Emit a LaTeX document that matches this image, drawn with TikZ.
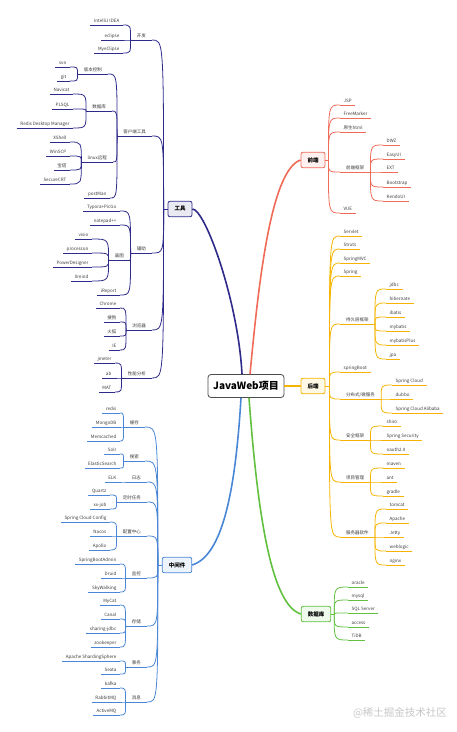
\documentclass[tikz,border=0pt]{standalone}
\usepackage{fontspec}
\setmainfont{Noto Sans CJK SC}
\usepackage{tikz}
\usetikzlibrary{calc}
\definecolor{cTool}{HTML}{2E2A8A}
\definecolor{cMid}{HTML}{4A86D6}
\definecolor{cFe}{HTML}{F06A58}
\definecolor{cBe}{HTML}{F6B400}
\definecolor{cDb}{HTML}{62C040}
\definecolor{cTxt}{HTML}{3A3A3A}

\begin{document}
\begin{tikzpicture}[x=1pt, y=-1pt,
    leaf/.style={font=\fontsize{4.5}{5}\selectfont, text=cTxt, inner xsep=3.5pt, inner ysep=1.8pt, text height=3.4pt, text depth=.9pt},
    ul/.style={append after command={(\tikzlastnode.south west) edge[draw=#1, line width=.8pt] (\tikzlastnode.south east)}},
    lt/.style={leaf, anchor=south east, ul=cTool},
    ht/.style={lt, inner xsep=6pt},
    lm/.style={leaf, anchor=south east, ul=cMid},
    hm/.style={lm, inner xsep=6pt},
    lf/.style={leaf, anchor=south west, ul=cFe},
    hf/.style={lf, inner xsep=6pt},
    lb/.style={leaf, anchor=south west, ul=cBe},
    hb/.style={lb, inner xsep=6pt},
    ld/.style={leaf, anchor=south west, ul=cDb},
    branch/.style={draw=#1, fill=#1!10, rounded corners=2pt, line width=.8pt, text=black, font=\bfseries\fontsize{5.5}{6}\selectfont, minimum height=15.5pt, inner xsep=6.5pt},
    link/.style={draw=#1, line width=.8pt},
    trunk/.style={draw=#1, line width=1.6pt}]
            \useasboundingbox (0,0) rectangle (457,732);
            \node[draw=gray!60!black, fill=white, rounded corners=3pt, line width=.8pt, minimum width=76pt, minimum height=23pt, font=\bfseries\fontsize{10}{12}\selectfont] (root) at (246,386) {JavaWeb项目};
            \node[branch=cTool] (tool) at (180,209) {工具};
            \node[branch=cMid] (mid) at (177,565) {中间件};
            \node[branch=cFe] (fe) at (313,160) {前端};
            \node[branch=cBe] (be) at (313,386) {后端};
            \node[branch=cDb] (db) at (316,614) {数据库};
            \coordinate (tj) at ($(tool.west)+(-4,0)$);
            \coordinate (mj) at ($(mid.west)+(-4,0)$);
            \coordinate (fj) at ($(fe.east)+(3,0)$);
            \coordinate (bj) at ($(be.east)+(4,0)$);
            \coordinate (dj) at ($(db.east)+(3,0)$);

            \node[lt] (ide1) at (123,25) {IntelliJ IDEA};
            \node[lt] (ide2) at (123,40) {eclipse};
            \node[lt] (ide3) at (123,53) {MyeClipse};
            \node[ht] (dev) at (152,40) {开发};
            \node[lt] (vc1) at (70,67) {svn};
            \node[lt] (vc2) at (70,81) {git};
            \node[ht] (vc) at (108,74) {版本控制};
            \node[lt] (db1) at (73,94) {Navicat};
            \node[lt] (db2) at (73,109) {PLSQL};
            \node[lt] (db3) at (73,128) {Redis Desktop Manager};
            \node[ht] (tdb) at (112,111) {数据库};
            \node[lt] (lx1) at (70,142) {XShell};
            \node[lt] (lx2) at (70,156) {WinSCP};
            \node[lt] (lx3) at (70,170) {宝塔};
            \node[lt] (lx4) at (70,184) {SecureCRT};
            \node[ht] (lx) at (113,162) {linux远程};
            \node[lt] (pm) at (110,198) {postMan};
            \node[ht] (cli) at (152,136) {客户端工具};
            \node[lt] (au1) at (120,211) {Typora+PicGo};
            \node[lt] (au2) at (120,225) {notepad++};
            \node[lt] (dr1) at (92,239) {visio};
            \node[lt] (dr2) at (92,253) {processon};
            \node[lt] (dr3) at (92,267) {PowerDesigner};
            \node[lt] (dr4) at (92,281) {Xmind};
            \node[ht] (dr) at (130,260) {画图};
            \node[lt] (au3) at (120,295) {iReport};
            \node[ht] (aux) at (152,253) {辅助};
            \node[lt] (br1) at (120,308) {Chrome};
            \node[lt] (br2) at (120,322) {搜狗};
            \node[lt] (br3) at (120,336) {火狐};
            \node[lt] (br4) at (120,350) {IE};
            \node[ht] (brw) at (152,330) {浏览器};
            \node[lt] (pf1) at (115,363) {jmeter};
            \node[lt] (pf2) at (115,378) {ab};
            \node[lt] (pf3) at (115,392) {MAT};
            \node[ht] (perf) at (152,378) {性能分析};

            \node[lm] (c1) at (120,413) {redis};
            \node[lm] (c2) at (120,427) {MongoDB};
            \node[lm] (c3) at (120,441) {Memcached};
            \node[hm] (cache) at (145,427) {缓存};
            \node[lm] (s1) at (120,454) {Solr};
            \node[lm] (s2) at (120,468) {ElasticSearch};
            \node[hm] (srch) at (145,461) {搜索};
            \node[lm] (l1) at (120,482) {ELK};
            \node[hm] (log) at (147,482) {日志};
            \node[lm] (q1) at (110,495) {Quartz};
            \node[lm] (q2) at (110,509) {xx-job};
            \node[hm] (job) at (147,502) {定时任务};
            \node[lm] (f1) at (110,522) {Spring Cloud Config};
            \node[lm] (f2) at (110,536) {Nacos};
            \node[lm] (f3) at (110,550) {Apollo};
            \node[hm] (cfg) at (147,536) {配置中心};
            \node[lm] (m1) at (120,564) {SpringBootAdmin};
            \node[lm] (m2) at (120,578) {Druid};
            \node[lm] (m3) at (120,592) {SkyWalking};
            \node[hm] (mon) at (147,578) {监控};
            \node[lm] (st1) at (120,605) {MyCat};
            \node[lm] (st2) at (120,619) {Canal};
            \node[lm] (st3) at (120,633) {sharing-jdbc};
            \node[lm] (st4) at (120,647) {zookeeper};
            \node[hm] (sto) at (147,626) {存储};
            \node[lm] (t1) at (120,661) {Apache ShardingSphere};
            \node[lm] (t2) at (120,674) {Seata};
            \node[hm] (tx) at (147,667) {事务};
            \node[lm] (k1) at (120,688) {kafka};
            \node[lm] (k2) at (120,702) {RabbitMQ};
            \node[lm] (k3) at (120,715) {ActiveMQ};
            \node[hm] (mq) at (147,702) {消息};

            \node[lf] (fe1) at (340,105) {JSP};
            \node[lf] (fe2) at (340,118) {FreeMarker};
            \node[lf] (fe3) at (340,132) {原生html};
            \node[hf] (fw) at (340,172) {前端框架};
            \node[lf] (fw1) at (383,145) {DWZ};
            \node[lf] (fw2) at (383,159) {EasyUI};
            \node[lf] (fw3) at (383,172) {EXT};
            \node[lf] (fw4) at (383,187) {Bootstrap};
            \node[lf] (fw5) at (383,201) {KendoUI};
            \node[lf] (fe4) at (340,213) {VUE};

            \node[lb] (be1) at (340,236) {Servlet};
            \node[lb] (be2) at (340,249) {Struts};
            \node[lb] (be3) at (340,263) {SpringMVC};
            \node[lb] (be4) at (340,276) {Spring};
            \node[hb] (orm) at (340,324) {持久层框架};
            \node[lb] (o1) at (386,289) {jdbc};
            \node[lb] (o2) at (386,303) {hibernate};
            \node[lb] (o3) at (386,317) {ibatis};
            \node[lb] (o4) at (386,331) {mybatis};
            \node[lb] (o5) at (386,345) {mybatisPlus};
            \node[lb] (o6) at (386,359) {jpa};
            \node[lb] (be5) at (340,372) {springBoot};
            \node[hb] (dist) at (340,399) {分布式/微服务};
            \node[lb] (d1) at (392,385) {Spring Cloud};
            \node[lb] (d2) at (392,399) {dubbo};
            \node[lb] (d3) at (392,413) {Spring Cloud Alibaba};
            \node[hb] (sec) at (340,440) {安全框架};
            \node[lb] (sc1) at (383,426) {shiro};
            \node[lb] (sc2) at (383,440) {Spring Security};
            \node[lb] (sc3) at (383,454) {oauth2.0};
            \node[hb] (pj) at (340,482) {项目管理};
            \node[lb] (pj1) at (383,468) {maven};
            \node[lb] (pj2) at (383,482) {ant};
            \node[lb] (pj3) at (383,496) {gradle};
            \node[hb] (srv) at (340,537) {服务器软件};
            \node[lb] (sv1) at (386,509) {tomcat};
            \node[lb] (sv2) at (386,523) {Apache};
            \node[lb] (sv3) at (386,537) {Jetty};
            \node[lb] (sv4) at (386,551) {weblogic};
            \node[lb] (sv5) at (386,565) {nginx};

            \node[ld] (sq1) at (348,587) {oracle};
            \node[ld] (sq2) at (348,600) {mysql};
            \node[ld] (sq3) at (348,613) {SQL Server};
            \node[ld] (sq4) at (348,627) {access};
            \node[ld] (sq5) at (348,640) {TiDB};

            \node[text=gray!45, font=\fontsize{10.5}{12}\selectfont] (wm) at (400,713) {@稀土掘金技术社区};

            \draw[trunk=cTool] ([xshift=-4pt]root.north) .. controls (238,300) and (205,209) .. (tool.east);
            \draw[trunk=cFe] ([xshift=4pt]root.north) .. controls (258,290) and (270,170) .. (fe.west);
            \draw[trunk=cMid] ([xshift=-5pt]root.south) .. controls (236,480) and (225,555) .. (mid.east);
            \draw[trunk=cDb] ([xshift=3pt]root.south) .. controls (258,520) and (272,605) .. (db.west);
            \draw[trunk=cBe] (root) -- (be);
            \draw[link=cTool] (tool) -- (tj);
            \draw[link=cMid] (mid) -- (mj);
            \draw[link=cFe] (fe) -- (fj);
            \draw[link=cBe] (be) -- (bj);
            \draw[link=cDb] (db) -- (dj);

            \foreach \c in {dev, cli, aux, brw, perf}
                \draw[link=cTool] (tj) .. controls (tj |- \c.south east) .. (\c.south east);
            \foreach \p/\c in {dev/ide1, dev/ide2, dev/ide3, cli/vc, cli/tdb, cli/lx, cli/pm, vc/vc1, vc/vc2, tdb/db1, tdb/db2, tdb/db3, lx/lx1, lx/lx2, lx/lx3, lx/lx4, aux/au1, aux/au2, aux/dr, aux/au3, dr/dr1, dr/dr2, dr/dr3, dr/dr4, brw/br1, brw/br2, brw/br3, brw/br4, perf/pf1, perf/pf2, perf/pf3}
                \draw[link=cTool] (\p.south west) .. controls (\p.south west |- \c.south east) .. (\c.south east);
            \foreach \c in {cache, srch, log, job, cfg, mon, sto, tx, mq}
                \draw[link=cMid] (mj) .. controls (mj |- \c.south east) .. (\c.south east);
            \foreach \p/\c in {cache/c1, cache/c2, cache/c3, srch/s1, srch/s2, log/l1, job/q1, job/q2, cfg/f1, cfg/f2, cfg/f3, mon/m1, mon/m2, mon/m3, sto/st1, sto/st2, sto/st3, sto/st4, tx/t1, tx/t2, mq/k1, mq/k2, mq/k3}
                \draw[link=cMid] (\p.south west) .. controls (\p.south west |- \c.south east) .. (\c.south east);
            \foreach \c in {fe1, fe2, fe3, fw, fe4}
                \draw[link=cFe] (fj) .. controls (fj |- \c.south west) .. (\c.south west);
            \foreach \c in {fw1, fw2, fw3, fw4, fw5}
                \draw[link=cFe] (fw.south east) .. controls (fw.south east |- \c.south west) .. (\c.south west);
            \foreach \c in {be1, be2, be3, be4, orm, be5, dist, sec, pj, srv}
                \draw[link=cBe] (bj) .. controls (bj |- \c.south west) .. (\c.south west);
            \foreach \p/\c in {orm/o1, orm/o2, orm/o3, orm/o4, orm/o5, orm/o6, dist/d1, dist/d2, dist/d3, sec/sc1, sec/sc2, sec/sc3, pj/pj1, pj/pj2, pj/pj3, srv/sv1, srv/sv2, srv/sv3, srv/sv4, srv/sv5}
                \draw[link=cBe] (\p.south east) .. controls (\p.south east |- \c.south west) .. (\c.south west);
            \foreach \c in {sq1, sq2, sq3, sq4, sq5}
                \draw[link=cDb] (dj) .. controls (dj |- \c.south west) .. (\c.south west);
\end{tikzpicture}
\end{document}
